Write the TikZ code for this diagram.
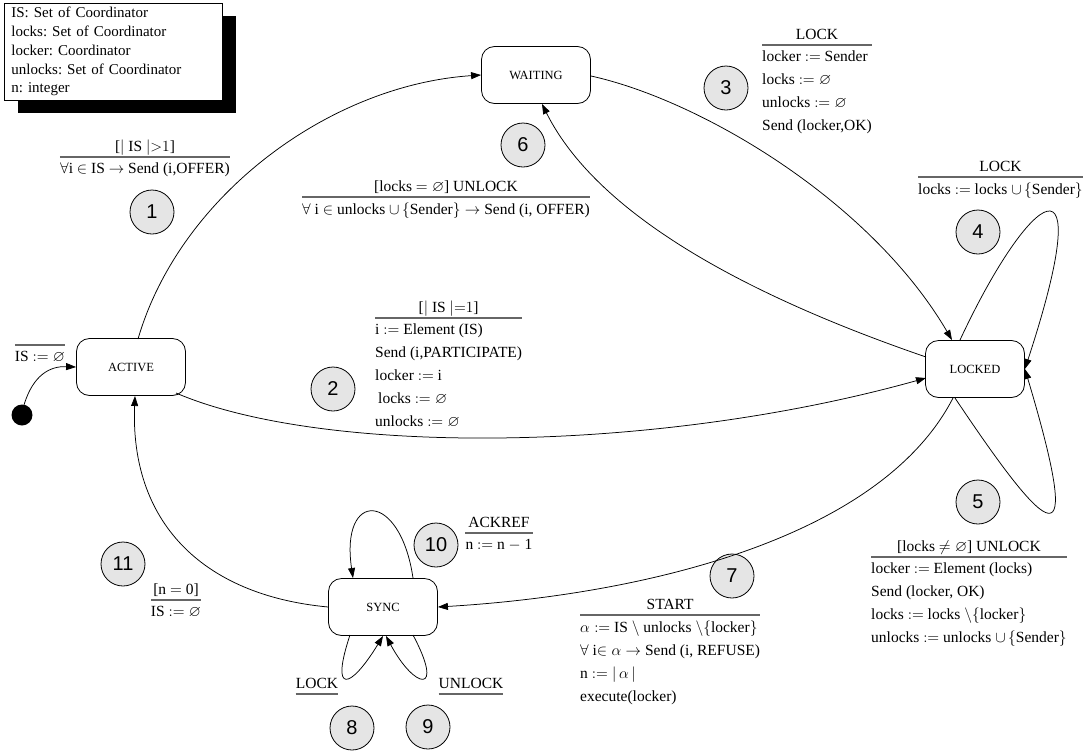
\RequirePackage{fix-cm}
\documentclass[tikz,border=0pt]{standalone}
\usepackage{amssymb}
\usepackage{fontspec}
\setmainfont{Liberation Serif}
\setsansfont{Liberation Sans}
\usetikzlibrary{arrows.meta,shadows}

\definecolor{badgefill}{gray}{0.9}
\definecolor{rulegray}{gray}{0.4}

\begin{document}
\frenchspacing
\begin{tikzpicture}[x=1pt,y=-1pt,
  state/.style={draw, rectangle, rounded corners=13pt, line width=0.8pt,
    minimum width=109pt, minimum height=57pt, inner sep=0pt,
    font=\fontsize{12.5}{14}\selectfont},
  badge/.style={draw, circle, fill=badgefill, line width=0.8pt,
    minimum size=44pt, inner sep=0pt, font=\sffamily\fontsize{20}{20}\selectfont},
  txt/.style={inner sep=0pt, font=\fontsize{15.5}{23}\selectfont},
  head/.style={txt, anchor=base},
  bodyl/.style={txt, anchor=north west, align=left},
  bodyc/.style={txt, anchor=north, align=center},
  rule/.style={draw=rulegray, line width=1.3pt},
  edge/.style={draw, line width=0.75pt, -{Triangle[length=10pt,width=7pt]}},
]
\useasboundingbox (0,0) rectangle (1088,753);

% declarations box with solid shadow
\node[draw, fill=white, line width=0.8pt, anchor=north west, inner xsep=7pt, inner ysep=4pt,
  text width=204pt, minimum height=96pt, align=left,
  font=\fontsize{15}{18.7}\selectfont,
  general shadow={fill=black, shadow xshift=14pt, shadow yshift=-13pt}] (decl) at (4,3)
  {IS: Set of Coordinator\\ locks: Set of Coordinator\\ locker: Coordinator\\
   unlocks: Set of Coordinator\\ n: integer};

% states
\node[state] (waiting) at (536,75) {WAITING};
\node[state] (active) at (131,367) {ACTIVE};
\node[state, minimum width=99pt] (locked) at (975,369) {LOCKED};
\node[state] (sync) at (383,607) {SYNC};
\node[circle, fill=black, minimum size=21pt, inner sep=0pt] (init) at (22,415) {};

% transition numbers
\node[badge] (n1) at (152,212) {1};
\node[badge] (n2) at (333,389) {2};
\node[badge] (n3) at (726,88) {3};
\node[badge] (n4) at (978,232) {4};
\node[badge] (n5) at (978,502) {5};
\node[badge] (n6) at (523,145) {6};
\node[badge] (n7) at (732,576) {7};
\node[badge] (n8) at (352,728) {8};
\node[badge] (n9) at (428,727) {9};
\node[badge] (n10) at (436,545) {10};
\node[badge] (n11) at (123,564) {11};

% transitions
\coordinate (iS) at (24,405);
\draw[edge] (iS) .. controls (33,375) and (50,366) .. (active.west);
\coordinate (aTop) at (138,339);
\draw[edge] (aTop) .. controls (180,195) and (330,85) .. (waiting.west);
\coordinate (wR) at (591,76);
\coordinate (lTop) at (952,340);
\draw[edge] (wR) .. controls (700,100) and (870,200) .. (lTop);
\coordinate (lLeft) at (926,357);
\coordinate (wBot) at (542,104);
\draw[edge] (lLeft) .. controls (760,300) and (600,220) .. (wBot);
\coordinate (aBR) at (176,393);
\coordinate (lLeftLow) at (926,378);
\draw[edge] (aBR) .. controls (320,455) and (650,455) .. (lLeftLow);
\coordinate (lTopR) at (960,340);
\draw[edge] (lTopR) .. controls (1030,190) and (1100,140) .. (locked.east);
\coordinate (lBot) at (955,398);
\draw[edge] (lBot) .. controls (1050,540) and (1085,570) .. (locked.east);
\coordinate (lBot2) at (953,398);
\draw[edge] (lBot2) .. controls (880,540) and (640,595) .. (sync.east);
\coordinate (aBot) at (135,396);
\draw[edge] (sync.west) .. controls (200,595) and (130,520) .. (aBot);
\coordinate (sTopR) at (413,578);
\coordinate (sTopL) at (353,578);
\draw[edge] (sTopR) .. controls (400,490) and (340,490) .. (sTopL);
\coordinate (sBotL) at (350,635);
\coordinate (sBotR) at (413,635);
\coordinate (sBotM) at (383,636);
\coordinate (sBotM2) at (386,636);
\draw[edge] (sBotL) .. controls (330,695) and (350,690) .. (sBotM);
\draw[edge] (sBotR) .. controls (445,695) and (415,690) .. (sBotM2);

% transition labels: trigger/guard above the rule, actions below
\node[bodyc] (bi) at (40,351) {IS $:= \varnothing$};
\draw[rule] ([yshift=6pt]bi.north west) -- ([yshift=6pt]bi.north east);

\node[bodyc] (b1) at (145,163) {$\forall$i $\in$ IS $\rightarrow$ Send (i,OFFER)};
\draw[rule] ([yshift=6pt]b1.north west) -- ([yshift=6pt]b1.north east);
\node[head] at ([yshift=12pt]b1.north) {[$|$ IS $|{>}1$]};

\node[bodyl] (b2) at (375,324) {i $:=$ Element (IS)\\ Send (i,PARTICIPATE)\\ locker $:=$ i\\
  \hspace{3pt}locks $:= \varnothing$\\ unlocks $:= \varnothing$};
\draw[rule] ([yshift=6pt]b2.north west) -- ([yshift=6pt]b2.north east);
\node[head] at ([yshift=12pt]b2.north) {[$|$ IS $|{=}1$]};

\node[bodyl] (b3) at (762,51) {locker $:=$ Sender\\ locks $:= \varnothing$\\ unlocks $:= \varnothing$\\
  Send (locker,OK)};
\draw[rule] ([yshift=6pt]b3.north west) -- ([yshift=6pt]b3.north east);
\node[head] at ([yshift=12pt]b3.north) {LOCK};

\node[bodyl] (b4) at (918,183) {locks $:=$ locks $\cup\,\{$Sender$\}$};
\draw[rule] ([yshift=6pt]b4.north west) -- ([yshift=6pt]b4.north east);
\node[head] at ([yshift=12pt]b4.north) {LOCK};

\node[bodyl] (b5) at (871,563) {locker $:=$ Element (locks)\\ Send (locker, OK)\\
  locks $:=$ locks $\setminus \{$locker$\}$\\ unlocks $:=$ unlocks $\cup\,\{$Sender$\}$};
\draw[rule] ([yshift=6pt]b5.north west) -- ([yshift=6pt]b5.north east);
\node[head] at ([yshift=12pt]b5.north) {[locks $\neq \varnothing$] UNLOCK};

\node[bodyc] (b6) at (446,203) {$\forall$ i $\in$ unlocks $\cup\,\{$Sender$\} \rightarrow$ Send (i, OFFER)};
\draw[rule] ([yshift=6pt]b6.north west) -- ([yshift=6pt]b6.north east);
\node[head] at ([yshift=12pt]b6.north) {[locks $= \varnothing$] UNLOCK};

\node[bodyl] (b7) at (580,621) {$\alpha :=$ IS $\setminus$ unlocks $\setminus \{$locker$\}$\\
  $\forall$ i$\in \alpha \rightarrow$ Send (i, REFUSE)\\ n $:= |\,\alpha\,|$\\ execute(locker)};
\draw[rule] ([yshift=6pt]b7.north west) -- ([yshift=6pt]b7.north east);
\node[head] at ([yshift=12pt]b7.north) {START};

\node[head] (h8) at (317,688) {LOCK};
\draw[rule] ([yshift=-6pt]h8.base west) -- ([yshift=-6pt]h8.base east);
\node[head] (h9) at (471,688) {UNLOCK};
\draw[rule] ([yshift=-6pt]h9.base west) -- ([yshift=-6pt]h9.base east);

\node[bodyc] (b10) at (499,539) {n $:=$ n $-$ 1};
\draw[rule] ([yshift=6pt]b10.north west) -- ([yshift=6pt]b10.north east);
\node[head] at ([yshift=12pt]b10.north) {ACKREF};

\node[bodyc] (b11) at (176,606) {IS $:= \varnothing$};
\draw[rule] ([yshift=6pt]b11.north west) -- ([yshift=6pt]b11.north east);
\node[head] at ([yshift=12pt]b11.north) {[n $=$ 0]};
\end{tikzpicture}
\end{document}
